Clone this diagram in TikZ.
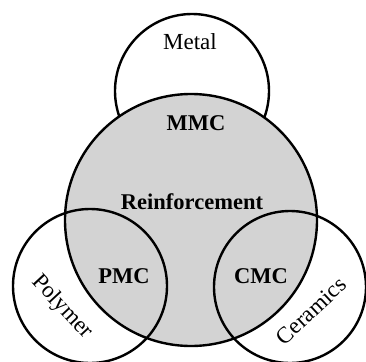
\documentclass[tikz,border=0pt]{standalone}
\usepackage{fontspec}
\setmainfont{Liberation Serif}
\begin{document}
\begin{tikzpicture}[x=1pt,y=-1pt,
  ring/.style={draw=black,line width=2.4pt},
  lbl/.style={font=\fontsize{23}{27}\selectfont,inner sep=0pt},
  blbl/.style={font=\fontsize{22.5}{27}\selectfont\bfseries,inner sep=0pt}]
\useasboundingbox (0,0) rectangle (366,361);
\draw[ring,fill=white] (192,91) circle[radius=77];
\draw[ring,fill={rgb,255:red,211;green,211;blue,211}] (191,220) circle[radius=126];
\draw[ring] (90,286) circle[radius=77];
\draw[ring] (290,287) circle[radius=76];
\node[lbl] (metal) at (190,42) {Metal};
\node[blbl] (mmc) at (196,123) {MMC};
\node[blbl] (reinf) at (192,202) {Reinforcement};
\node[blbl] (pmc) at (124,276) {PMC};
\node[blbl] (cmc) at (261,276) {CMC};
\node[lbl,rotate=-47] (poly) at (62,307) {Polymer};
\node[lbl,rotate=43] (cer) at (311,311) {Ceramics};
\end{tikzpicture}
\end{document}
